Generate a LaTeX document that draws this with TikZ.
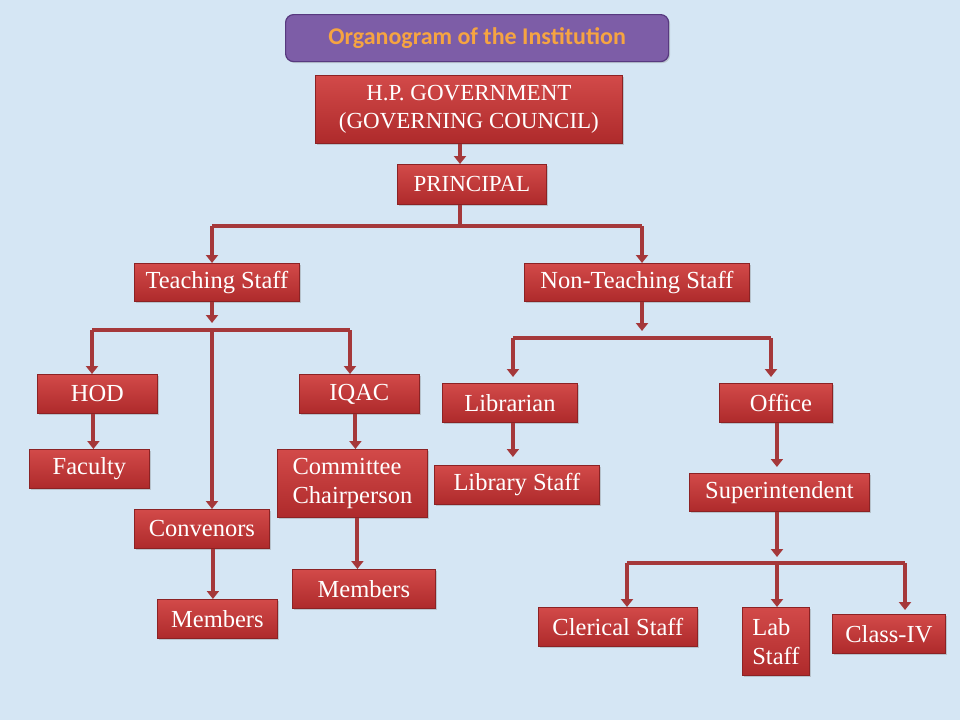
\documentclass[tikz,border=0pt]{standalone}
\usepackage{fontspec}
\setmainfont{Liberation Serif}
\newfontfamily\titlefont{Carlito}
\usetikzlibrary{arrows.meta,shadows,calc}
\definecolor{bgblue}{HTML}{D5E6F4}
\definecolor{boxtop}{HTML}{D24A49}
\definecolor{boxbot}{HTML}{AE2A2B}
\definecolor{boxline}{HTML}{8C2224}
\definecolor{connred}{HTML}{A5383A}
\definecolor{titlefill}{HTML}{7D5DA7}
\definecolor{titleline}{HTML}{57397F}
\definecolor{titletext}{HTML}{F6A441}
\begin{document}
\begin{tikzpicture}[x=1pt,y=-1pt,
  box/.style={draw=boxline, line width=0.8pt, top color=boxtop, bottom color=boxbot,
    text=white, inner sep=1pt, anchor=north west,
    font=\fontsize{24.5}{29}\selectfont,
    drop shadow={shadow xshift=2pt,shadow yshift=-2pt,opacity=0.35}},
  capsbox/.style={box, font=\fontsize{23}{28}\selectfont},
  line/.style={draw=connred, line width=4pt},
  arr/.style={line, -{Triangle[width=12pt,length=8pt]}}]
\useasboundingbox (0,0) rectangle (960,720);
\fill[bgblue] (0,0) rectangle (960,720);
% title
\node[draw=titleline, line width=1.2pt, fill=titlefill, rounded corners=8pt,
  minimum width=383pt, minimum height=47pt, anchor=north west,
  text=titletext, font=\titlefont\bfseries\fontsize{24}{28}\selectfont,
  drop shadow={shadow xshift=1.5pt,shadow yshift=-1.5pt,opacity=0.3}]
  (title) at (285,14) {Organogram of the Institution};
% boxes
\node[capsbox, minimum width=307pt, minimum height=68pt, align=center] (hp) at (315,75)
  {H.P. GOVERNMENT\\(GOVERNING COUNCIL)};
\node[capsbox, minimum width=149pt, minimum height=40pt] (pr) at (397,164) {PRINCIPAL};
\node[box, minimum width=165pt, minimum height=38pt] (ts) at (134,263) {Teaching Staff};
\node[box, minimum width=225pt, minimum height=38pt] (nts) at (524,263) {Non-Teaching Staff};
\node[box, minimum width=120pt, minimum height=39pt] (hod) at (37,374) {HOD\hspace{12pt}};
\node[box, minimum width=120pt, minimum height=39pt] (fac) at (29,449) {Faculty};
\node[box, minimum width=120pt, minimum height=39pt] (iqac) at (299,374) {IQAC\hspace{22pt}};
\node[box, minimum width=150pt, minimum height=68pt, align=left] (cc) at (277,449)
  {Committee\\Chairperson};
\node[box, minimum width=135pt, minimum height=39pt] (conv) at (134,509) {Convenors};
\node[box, minimum width=120pt, minimum height=39pt] (mem1) at (157,599) {Members};
\node[box, minimum width=143pt, minimum height=39pt] (mem2) at (292,569) {Members};
\node[box, minimum width=135pt, minimum height=39pt] (lib) at (442,383) {Librarian};
\node[box, minimum width=165pt, minimum height=39pt] (ls) at (434,465) {Library Staff\hspace{20pt}};
\node[box, minimum width=113pt, minimum height=39pt] (off) at (719,383) {\hspace{10pt}Office};
\node[box, minimum width=180pt, minimum height=38pt] (sup) at (689,473) {Superintendent};
\node[box, minimum width=159pt, minimum height=39pt] (cler) at (538,607) {Clerical Staff};
\node[box, minimum width=67pt, minimum height=68pt, align=left] (lab) at (742,607) {Lab\\Staff};
\node[box, minimum width=113pt, minimum height=39pt] (cls) at (832,614) {Class-IV};
% junction coordinates
\coordinate (pj) at (460,226);
\coordinate (pl) at (212,226);
\coordinate (prr) at (642,226);
\coordinate (ta) at (212,323);
\coordinate (tl) at (92,330);
\coordinate (tm) at (212,330);
\coordinate (tr) at (350,330);
\coordinate (na) at (642,331);
\coordinate (nl) at (513,338);
\coordinate (nr) at (771,338);
\coordinate (sa) at (777,557);
\coordinate (sl) at (627,563);
\coordinate (sm) at (777,563);
\coordinate (sr) at (905,563);
% connectors top
\draw[arr] (hp.south -| pj) -- (pr.north -| pj);
\draw[line] (pr.south -| pj) -- (pj);
\draw[line] (pl) -- (prr);
\draw[arr] (pl) -- (pl |- ts.north);
\draw[arr] (prr) -- (prr |- nts.north);
% teaching
\draw[arr] (ts.south -| ta) -- (ta);
\draw[line] (tl) -- (tr);
\draw[arr] (tl) -- (tl |- hod.north);
\draw[arr] (tr) -- (tr |- iqac.north);
\draw[arr] (tm) -- (tm |- conv.north);
\draw[arr] ([xshift=-4pt]hod.south) -- ([xshift=-4pt]hod.south |- fac.north);
\draw[arr] ([xshift=-4pt]iqac.south) -- ([xshift=-4pt]iqac.south |- cc.north);
\draw[arr] ([xshift=5pt]cc.south) -- ([xshift=5pt]cc.south |- mem2.north);
\draw[arr] ([xshift=11pt]conv.south) -- ([xshift=11pt]conv.south |- mem1.north);
% non-teaching
\draw[arr] (nts.south -| na) -- (na);
\draw[line] (nl) -- (nr);
\draw[arr] (nl) -- ([yshift=6pt]nl |- lib.north);
\draw[arr] (nr) -- ([yshift=6pt]nr |- off.north);
\draw[arr] ([xshift=3pt]lib.south) -- ([xshift=3pt,yshift=8pt]lib.south |- ls.north);
\draw[arr] ([xshift=1pt]off.south) -- ([xshift=1pt,yshift=6pt]off.south |- sup.north);
\draw[arr] (sup.south -| sa) -- (sa);
\draw[line] (sl) -- (sr);
\draw[arr] (sl) -- (sl |- cler.north);
\draw[arr] (sm) -- (sm |- lab.north);
\draw[arr] (sr) -- ([yshift=4pt]sr |- cls.north);
\end{tikzpicture}
\end{document}
